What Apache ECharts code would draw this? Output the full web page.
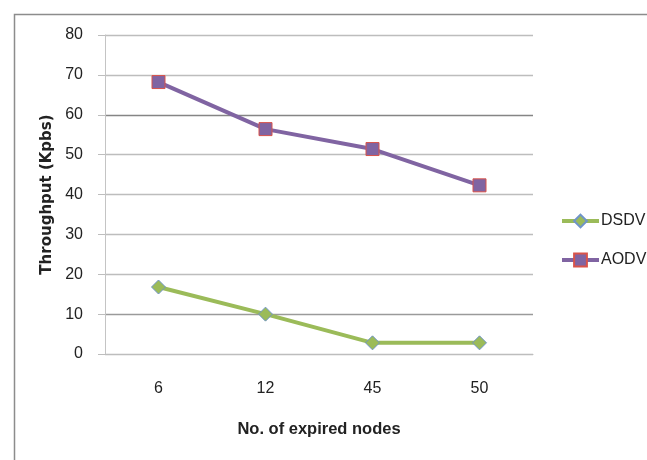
<!DOCTYPE html>
<html>
<head>
<meta charset="utf-8">
<script src="https://cdn.jsdelivr.net/npm/echarts@6/dist/echarts.min.js"></script>
<style>
  html, body { margin: 0; padding: 0; background: #fff; }
  #chart { width: 647px; height: 460px; }
</style>
</head>
<body>
<div id="chart"></div>
<script>
// Throughput of each routing protocol against the number of expired nodes
const categories = ['6', '12', '45', '50'];
const dsdvValues = [16.8, 10, 2.8, 2.8];
const aodvValues = [68.2, 56.4, 51.4, 42.3];
const yTicks = [0, 10, 20, 30, 40, 50, 60, 70, 80];

const FONT = "'Liberation Sans', Arial, sans-serif";
const chart = echarts.init(document.getElementById('chart'), null, { renderer: 'canvas' });

chart.setOption({
  animation: false,
  backgroundColor: '#ffffff',
  textStyle: { fontFamily: FONT, color: '#222' },
  graphic: [{
    type: 'rect',
    left: 12, top: 12,
    shape: { width: 700, height: 500 },
    style: { fill: 'none', stroke: '#8c8c8c', lineWidth: 1.5 },
    silent: true
  }],
  grid: { left: 105, top: 35, right: 114, bottom: 106 },
  legend: {
    orient: 'vertical',
    left: 560, top: 213,
    padding: 0,
    itemWidth: 37, itemHeight: 16, itemGap: 23,
    lineStyle: { width: 4 },
    textStyle: { fontFamily: FONT, fontSize: 16, color: '#222', padding: [0, 0, 0, -3] },
    data: ['DSDV', 'AODV']
  },
  xAxis: {
    type: 'category',
    data: categories,
    boundaryGap: true,
    name: 'No. of expired nodes',
    nameLocation: 'middle',
    nameGap: 67,
    nameTextStyle: { fontFamily: FONT, fontSize: 16.5, fontWeight: 'bold', color: '#222' },
    axisLine: { show: true, lineStyle: { color: '#bdbdbd', width: 1 } },
    axisTick: { show: false },
    axisLabel: { margin: 27, fontSize: 16, color: '#222', fontFamily: FONT }
  },
  yAxis: {
    type: 'value',
    min: yTicks[0], max: yTicks[yTicks.length - 1], interval: 10,
    name: 'Throughput (Kpbs)',
    nameLocation: 'middle',
    nameGap: 50,
    nameTextStyle: { fontFamily: "'DejaVu Sans', sans-serif", fontSize: 15, fontWeight: 'bold', color: '#222' },
    axisLine: { show: true, lineStyle: { color: '#c4c4c4', width: 1 } },
    axisTick: { show: true, inside: false, length: 7, lineStyle: { color: '#bdbdbd' } },
    axisLabel: { margin: 22, fontSize: 16, color: '#222', fontFamily: FONT },
    splitLine: {
      show: true,
      lineStyle: {
        color: ['#bdbdbd', '#9a9a9a', '#bdbdbd', '#bdbdbd', '#bdbdbd', '#bdbdbd', '#858585', '#bdbdbd', '#bdbdbd'],
        width: 1.3
      }
    }
  },
  series: [
    {
      name: 'DSDV',
      type: 'line',
      data: dsdvValues,
      symbol: 'diamond',
      symbolSize: 14,
      lineStyle: { color: '#9bbb59', width: 4 },
      itemStyle: { color: '#9bbb59', borderColor: '#6f94c8', borderWidth: 1 },
      z: 3
    },
    {
      name: 'AODV',
      type: 'line',
      data: aodvValues,
      symbol: 'rect',
      symbolSize: 13,
      lineStyle: { color: '#8064a2', width: 4 },
      itemStyle: { color: '#8064a2', borderColor: '#d9534a', borderWidth: 1 },
      z: 3
    }
  ]
});
</script>
</body>
</html>
